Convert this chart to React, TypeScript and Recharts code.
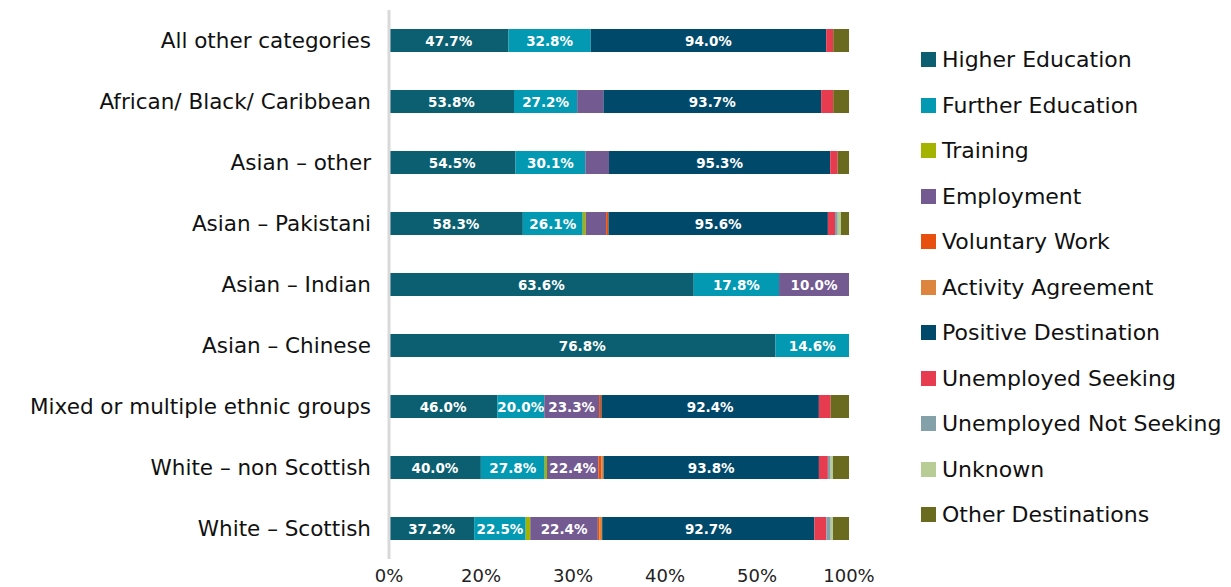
import React from 'react';
import { BarChart, Bar, XAxis, YAxis, Legend, LabelList } from 'recharts';

const categories = [
  'All other categories',
  'African/ Black/ Caribbean',
  'Asian – other',
  'Asian – Pakistani',
  'Asian – Indian',
  'Asian – Chinese',
  'Mixed or multiple ethnic groups',
  'White – non Scottish',
  'White – Scottish',
];

// % values per category (same order as categories)
const higherEducation = [47.7, 53.8, 54.5, 58.3, 63.6, 76.8, 46.0, 40.0, 37.2];
const furtherEducation = [32.8, 27.2, 30.1, 26.1, 17.8, 14.6, 20.0, 27.8, 22.5];
const training = [0, 0, 0, 1.3, 0, 0, 0, 1.0, 2.0];
const employment = [0, 11.3, 10.2, 8.9, 14.6, 0, 23.3, 22.4, 29.5];
const voluntaryWork = [0, 0, 0, 1.0, 0, 0, 1.0, 1.2, 0.6];
const activityAgreement = [0, 0, 0, 0, 0, 0, 0, 1.0, 1.3];
const positiveDestination = [94.0, 93.7, 95.3, 95.6, 0, 0, 92.4, 93.8, 92.7];
const unemployedSeeking = [2.8, 5.2, 3.2, 3.1, 0, 0, 5.0, 3.9, 5.2];
const unemployedNotSeeking = [0, 0, 0, 1.2, 0, 0, 0, 1.2, 1.9];
const unknown = [0, 0, 0, 1.4, 0, 0, 0, 1.0, 1.0];
const otherDestinations = [6.3, 6.8, 4.9, 3.5, 0, 0, 7.8, 7.0, 7.0];

// labels printed on the bars
const heLabels = ['47.7%', '53.8%', '54.5%', '58.3%', '63.6%', '76.8%', '46.0%', '40.0%', '37.2%'];
const feLabels = ['32.8%', '27.2%', '30.1%', '26.1%', '17.8%', '14.6%', '20.0%', '27.8%', '22.5%'];
const empLabels = [null, null, null, null, '10.0%', null, '23.3%', '22.4%', '22.4%'];
const pdLabels = ['94.0%', '93.7%', '95.3%', '95.6%', null, null, '92.4%', '93.8%', '92.7%'];

const xTicks = [0, 0.2, 0.4, 0.6, 0.8, 1];
const xTickLabels = ['0%', '20%', '30%', '40%', '50%', '100%'];

const series = [
  { key: 'he', name: 'Higher Education', color: '#0b5f70', values: higherEducation, labels: heLabels },
  { key: 'fe', name: 'Further Education', color: '#0399b3', values: furtherEducation, labels: feLabels },
  { key: 'tr', name: 'Training', color: '#a3b300', values: training },
  { key: 'emp', name: 'Employment', color: '#735a91', values: employment, labels: empLabels },
  { key: 'vol', name: 'Voluntary Work', color: '#e8500f', values: voluntaryWork },
  { key: 'aa', name: 'Activity Agreement', color: '#dd843f', values: activityAgreement },
  { key: 'pd', name: 'Positive Destination', color: '#01496a', values: positiveDestination, labels: pdLabels },
  { key: 'us', name: 'Unemployed Seeking', color: '#e73c50', values: unemployedSeeking },
  { key: 'uns', name: 'Unemployed Not Seeking', color: '#84a0a8', values: unemployedNotSeeking },
  { key: 'unk', name: 'Unknown', color: '#b8cc96', values: unknown },
  { key: 'oth', name: 'Other Destinations', color: '#6a6b1e', values: otherDestinations },
];

const data = categories.map((name, i) => {
  const row: any = { name };
  series.forEach((s) => {
    row[s.key] = s.values[i];
    if (s.labels) row[s.key + 'Label'] = s.labels[i];
  });
  return row;
});

const FONT = '"DejaVu Sans", sans-serif';

const renderBarLabel = (props: any) => {
  const { x, y, width, height, value } = props;
  if (!value || !width) return null;
  return (
    <text
      x={x + width / 2}
      y={y + height / 2}
      fill="#fff"
      textAnchor="middle"
      dominantBaseline="central"
      fontSize={13.5}
      fontWeight={700}
      fontFamily={FONT}
    >
      {value}
    </text>
  );
};

const LegendBox = () => (
  <div style={{ fontFamily: FONT }}>
    {series.map((s) => (
      <div key={s.key} style={{ display: 'flex', alignItems: 'center', height: 45.5 }}>
        <span style={{ width: 15, height: 15, background: s.color, marginRight: 6, flex: 'none' }} />
        <span style={{ fontSize: 22, color: '#111', whiteSpace: 'nowrap' }}>{s.name}</span>
      </div>
    ))}
  </div>
);

export default function App() {
  return (
    <div style={{ position: 'absolute', left: 0, top: 0, width: 1231, height: 587, background: '#fff' }}>
      <BarChart
        width={1231}
        height={587}
        data={data}
        layout="vertical"
        stackOffset="expand"
        margin={{ top: 10, right: 382, bottom: 0, left: 0 }}
      >
        <XAxis
          type="number"
          domain={[0, 1]}
          ticks={xTicks}
          tickFormatter={(v: number, i: number) => xTickLabels[i]}
          height={28}
          axisLine={false}
          tickLine={false}
          tickMargin={4}
          tick={{ fontSize: 18, fill: '#222', fontFamily: FONT }}
        />
        <YAxis
          type="category"
          dataKey="name"
          width={389}
          interval={0}
          axisLine={{ stroke: '#d9d9d9', strokeWidth: 3 }}
          tickLine={false}
          tickMargin={12}
          tick={{ fontSize: 21.5, fill: '#111', fontFamily: FONT }}
        />
        <Legend
          layout="vertical"
          align="center"
          verticalAlign="middle"
          wrapperStyle={{ left: 921, top: 37, width: 310 }}
          content={() => <LegendBox />}
        />
        {series.map((s) => (
          <Bar
            key={s.key}
            dataKey={s.key}
            name={s.name}
            stackId="a"
            fill={s.color}
            barSize={23}
            isAnimationActive={false}
          >
            {s.labels && <LabelList dataKey={s.key + 'Label'} content={renderBarLabel} />}
          </Bar>
        ))}
      </BarChart>
    </div>
  );
}
